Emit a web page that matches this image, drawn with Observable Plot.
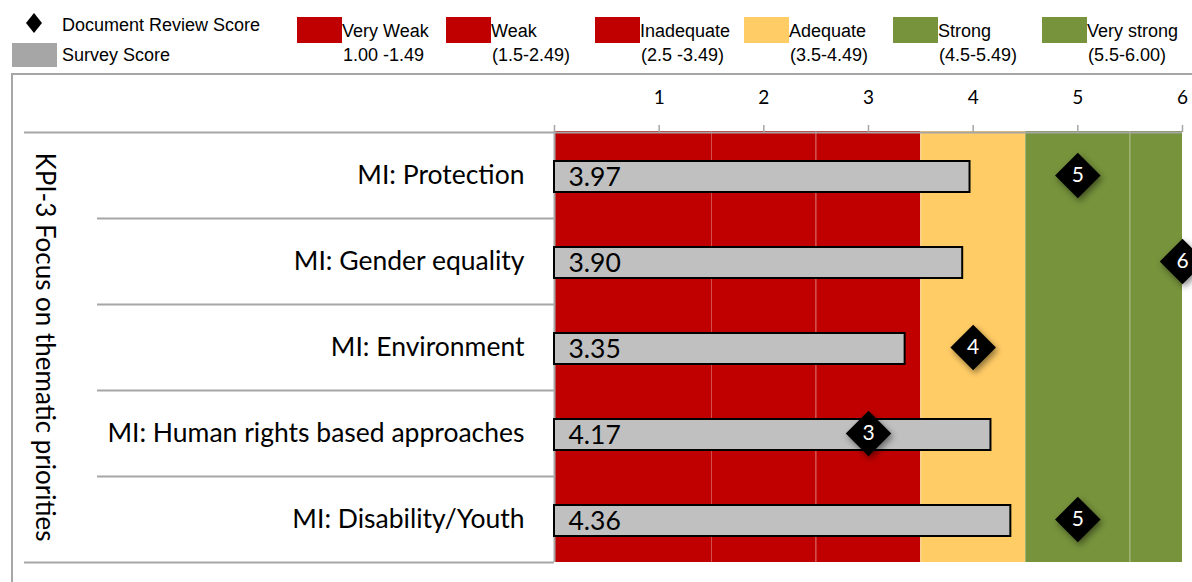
<!DOCTYPE html>
<html><head><meta charset="utf-8">
<script src="https://cdn.jsdelivr.net/npm/d3@7"></script>
<script src="https://cdn.jsdelivr.net/npm/@observablehq/plot@0.6"></script>
<style>
html,body{margin:0;padding:0;background:#fff}
body{width:1192px;height:582px;overflow:hidden;position:relative;font-family:"Liberation Sans",Arial,sans-serif}
.lg{position:absolute;font-size:18px;color:#000;line-height:1;white-space:nowrap}
.sw{position:absolute}
#box{position:absolute;left:11px;top:73px;width:1200px;height:520px;border:2px solid #A6A6A6;box-sizing:border-box}
#chart{position:absolute;left:0;top:74px}
</style></head><body>
<div id="legend"></div><div id="box"></div><div id="chart"></div>
<script>
const categories = ["MI: Protection", "MI: Gender equality", "MI: Environment", "MI: Human rights based approaches", "MI: Disability/Youth"];
const surveyScores = [3.97, 3.90, 3.35, 4.17, 4.36];
const documentScores = [5, 6, 4, 3, 5];
const bandNames = ["Very Weak", "Weak", "Inadequate", "Adequate", "Strong", "Very strong"];
const bandRanges = ["1.00 -1.49", "(1.5-2.49)", "(2.5 -3.49)", "(3.5-4.49)", "(4.5-5.49)", "(5.5-6.00)"];
const bandStarts = [0, 1.5, 2.5, 3.5, 4.5, 5.5];
const bandEnds = [1.5, 2.5, 3.5, 4.5, 5.5, 6];
const bandColors = ["#C00000", "#C00000", "#C00000", "#FFCC66", "#77933C", "#77933C"];
const xTicks = [0, 1, 2, 3, 4, 5, 6];
const axisTitle = "KPI-3 Focus on thematic priorities";
const seriesNames = ["Document Review Score", "Survey Score"];

// Legend (HTML above the SVG)
const legend = document.getElementById("legend");
function add(html){ legend.insertAdjacentHTML("beforeend", html); }
add(`<svg class="sw" style="left:26px;top:13px" width="16" height="20"><polygon points="8,0 16,10 8,20 0,10" fill="#000"/></svg>`);
add(`<div class="lg" style="left:62px;top:16px">${seriesNames[0]}</div>`);
add(`<div class="sw" style="left:12px;top:43px;width:45px;height:24px;background:#A6A6A6"></div>`);
add(`<div class="lg" style="left:62px;top:46px">${seriesNames[1]}</div>`);
bandNames.forEach((n, i) => {
  const left = 297 + i * 149;
  add(`<div class="sw" style="left:${left}px;top:17px;width:45px;height:26px;background:${bandColors[i]}"></div>`);
  add(`<div class="lg" style="left:${left + 45}px;top:22px">${n}</div>`);
  add(`<div class="lg" style="left:${left + 46}px;top:46px">${bandRanges[i]}</div>`);
});

// Chart
const W = 1192, H = 508, mT = 57, mB = 20, mL = 554, mR = 10;
const bw = (H - mT - mB) / categories.length;
const rows = categories.map((c, i) => ({cat: c, survey: surveyScores[i], doc: documentScores[i]}));
const bands = bandNames.map((n, i) => ({name: n, x1: bandStarts[i], x2: bandEnds[i], color: bandColors[i]}));
const grey = "#A6A6A6";
const font = "Lato, 'Open Sans', sans-serif";

const plot = Plot.plot({
  width: W, height: H,
  marginTop: mT, marginBottom: mB, marginLeft: mL, marginRight: mR,
  x: {domain: [0, 6], axis: null},
  y: {domain: categories, padding: 0, axis: null, label: null},
  color: {type: "identity"},
  style: {fontFamily: font, overflow: "visible", background: "transparent"},
  marks: [
    Plot.rectX(bands, {x1: "x1", x2: "x2", fill: "color"}),
    Plot.ruleX(bandStarts.slice(1), {stroke: "white", strokeOpacity: 0.3}),
    Plot.ruleX([0], {stroke: grey, strokeWidth: 2}),
    Plot.ruleY([categories[0]], {dy: -bw / 2, stroke: grey, strokeWidth: 2}),
    Plot.axisX(xTicks, {anchor: "top", tickSize: 7, tickPadding: 21, tickFormat: d => d === 0 ? "" : String(d), fontSize: 19, stroke: grey, strokeWidth: 1.5, fill: "black", label: null}),
    Plot.axisY([categories[0]], {anchor: "left", tickSize: 530, dy: -bw / 2, tickFormat: () => "", stroke: grey, strokeWidth: 2, label: null}),
    Plot.axisY(categories.slice(0, -1), {anchor: "left", tickSize: 457, dy: bw / 2, tickFormat: () => "", stroke: grey, strokeWidth: 2, label: null}),
    Plot.axisY([categories[categories.length - 1]], {anchor: "left", tickSize: 530, dy: bw / 2, tickFormat: () => "", stroke: grey, strokeWidth: 2, label: null}),
    Plot.axisY(categories, {anchor: "left", tickSize: 0, tickPadding: 30, fontSize: 26.5, fill: "black", label: null}),
    Plot.text([axisTitle], {frameAnchor: "left", dx: -510, rotate: 90, textAnchor: "middle", fontSize: 26, text: d => d, fill: "black"}),
    Plot.barX(rows, {x: "survey", y: "cat", fill: "#C0C0C0", stroke: "black", strokeWidth: 2, insetTop: 29, insetBottom: 26}),
    Plot.text(rows, {frameAnchor: "left", y: "cat", dy: 2, dx: 14, textAnchor: "start", text: d => d.survey.toFixed(2), fontSize: 26.5, fill: "black"}),
    Plot.dot(rows, {x: "doc", y: "cat", symbol: "diamond2", r: 20.5, fill: "black", stroke: "none"}),
    Plot.text(rows, {x: "doc", y: "cat", text: d => String(d.doc), fill: "white", fontSize: 21})
  ]
});
d3.select(plot).selectAll('g[aria-label="dot"] path').style("filter", "drop-shadow(2px 3px 3px rgba(0,0,0,0.45))");
document.getElementById("chart").appendChild(plot);
</script>
</body></html>
